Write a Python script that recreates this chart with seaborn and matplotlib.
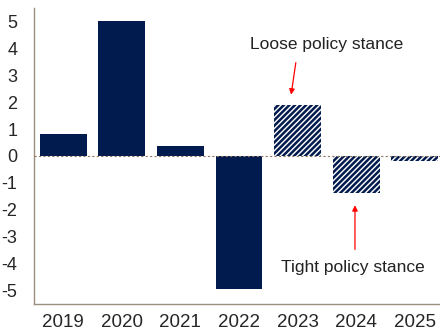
import matplotlib
matplotlib.use("Agg")
import matplotlib.pyplot as plt
import seaborn as sns
import pandas as pd
import numpy as np

years = ["2019", "2020", "2021", "2022", "2023", "2024", "2025"]
values = [0.8, 5.0, 0.37, -4.95, 1.9, -1.38, -0.2]
projected = [False, False, False, False, True, True, True]
y_ticks = [5, 4, 3, 2, 1, 0, -1, -2, -3, -4, -5]

navy = "#021B4E"
spine_col = "#9C8F80"

sns.set_theme(style="white")
plt.rcParams["font.family"] = ["Liberation Sans", "DejaVu Sans"]
plt.rcParams["hatch.linewidth"] = 1.8
plt.rcParams["hatch.color"] = navy

df = pd.DataFrame({"year": years, "value": values})

fig = plt.figure(figsize=(4.4, 3.32), dpi=100)
ax = fig.add_axes([34 / 440, 28 / 332, 410 / 440, 296 / 332])

sns.barplot(data=df, x="year", y="value", color=navy, width=0.8,
            saturation=1, ax=ax, edgecolor="none")

for patch, proj in zip(ax.patches, projected):
    if proj:
        patch.set_facecolor("white")
        patch.set_hatch("//////")
        patch.set_edgecolor(navy)
        patch.set_linewidth(0)

ax.set_ylim(-5.5, 5.5)
ax.set_xlim(-0.5, 6.5)
ax.set_yticks(y_ticks)
ax.set_yticklabels([str(t) for t in y_ticks], fontsize=13)
ax.set_xlabel("")
ax.set_ylabel("")

ax.axhline(0, color="#8C7A66", lw=0.8, ls=(0, (2, 2)), zorder=3)

for s in ["top", "right"]:
    ax.spines[s].set_visible(False)
for s in ["left", "bottom"]:
    ax.spines[s].set_color(spine_col)
    ax.spines[s].set_linewidth(1.0)

ax.set_xticks(range(len(years)))
ax.set_xticklabels(years, fontsize=13.5)
ax.set_xticks(np.arange(-0.5, len(years), 1.0), minor=True)
ax.tick_params(axis="x", which="major", length=0, pad=7)
ax.tick_params(axis="x", which="minor", length=4, color=spine_col, width=1, direction="out")
ax.tick_params(axis="y", length=3, color=spine_col, width=1, direction="out", pad=9)

# Labels and pointer arrows for the policy stance
ax.text(4.49, 4.14, "Loose policy stance", ha="center", va="center",
        fontsize=12.5, color="#222222")
ax.annotate("", xy=(3.89, 2.28), xytext=(3.97, 3.47),
            arrowprops=dict(arrowstyle="-|>", color="red", lw=0.9,
                            mutation_scale=8, shrinkA=0, shrinkB=0))
ax.text(4.95, -4.14, "Tight policy stance", ha="center", va="center",
        fontsize=12.5, color="#222222")
ax.annotate("", xy=(4.98, -1.83), xytext=(4.98, -3.47),
            arrowprops=dict(arrowstyle="-|>", color="red", lw=0.9,
                            mutation_scale=8, shrinkA=0, shrinkB=0))

fig.savefig("out.png", dpi=100)
